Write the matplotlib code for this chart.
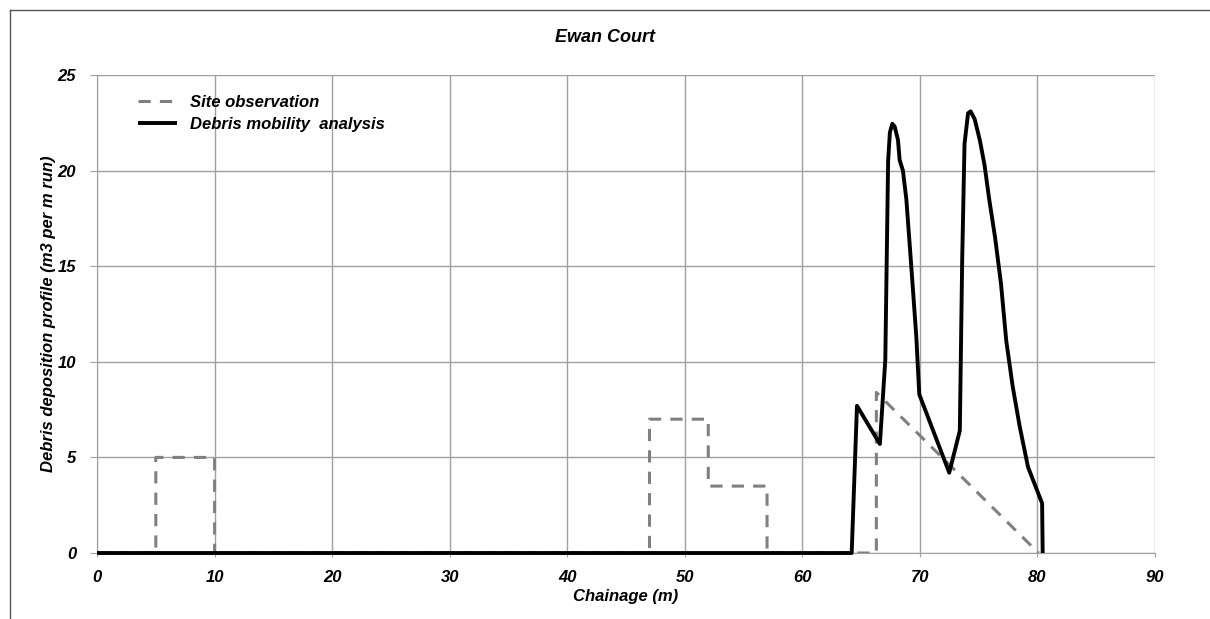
import matplotlib.pyplot as plt
from matplotlib.lines import Line2D

plt.rcParams['font.family'] = ['Liberation Sans', 'DejaVu Sans']

# Site observation (dashed grey)
obs_x = [0, 5, 5, 10, 10, 47, 47, 52, 52, 57, 57, 66.3, 66.3, 80.1]
obs_y = [0, 0, 5, 5, 0, 0, 7, 7, 3.5, 3.5, 0, 0, 8.4, 0]

# Debris mobility analysis (solid black)
dma_x = [0, 64.2, 64.65, 66.6, 67.06, 67.3, 67.45, 67.66, 67.86, 68.14, 68.28, 68.56,
         68.85, 69.27, 69.7, 69.95, 72.5, 73.4, 73.6, 73.8, 74.1, 74.32, 74.66, 75.1,
         75.5, 75.9, 76.4, 76.9, 77.35, 77.9, 78.5, 79.2, 80.4, 80.45]
dma_y = [0, 0, 7.7, 5.7, 10.1, 20.5, 22.0, 22.45, 22.3, 21.6, 20.55, 20.0,
         18.5, 15.0, 11.3, 8.3, 4.2, 6.4, 15.3, 21.4, 23.0, 23.1, 22.7, 21.6,
         20.3, 18.5, 16.5, 14.1, 11.1, 8.7, 6.6, 4.5, 2.6, 0]

fig = plt.figure(figsize=(12.1, 6.19), dpi=100)
ax = fig.add_axes([0.0802, 0.1066, 0.8743, 0.7722])

ax.plot(obs_x, obs_y, color='#808080', lw=2.2, dashes=(4, 3), zorder=3,
        label='Site observation')
ax.plot(dma_x, dma_y, color='black', lw=2.8, clip_on=False, solid_capstyle='butt',
        zorder=4, label='Debris mobility  analysis')

ax.set_xlim(0, 90)
ax.set_ylim(0, 25)
ax.set_xticks(range(0, 91, 10))
ax.set_yticks(range(0, 26, 5))
ax.grid(True, color='#a0a0a0', lw=1)
ax.set_axisbelow(True)
for s in ['top', 'right']:
    ax.spines[s].set_visible(False)
for s in ['left', 'bottom']:
    ax.spines[s].set_color('#a0a0a0')
ax.tick_params(axis='y', colors='#a0a0a0', labelcolor='black', length=5, pad=10, labelsize=12)
ax.tick_params(axis='x', colors='#a0a0a0', labelcolor='black', length=3, pad=9, labelsize=12)
for lab in ax.get_xticklabels() + ax.get_yticklabels():
    lab.set_fontweight('bold')
    lab.set_fontstyle('italic')

ax.set_xlabel('Chainage (m)', fontsize=12, fontweight='bold', fontstyle='italic', labelpad=3)
ax.set_ylabel('Debris deposition profile (m3 per m run)', fontsize=12,
              fontweight='bold', fontstyle='italic', labelpad=1)
fig.text(0.5, 0.94, 'Ewan Court', ha='center', va='center', fontsize=13,
         fontweight='bold', fontstyle='italic')

leg = ax.legend(loc='upper left', bbox_to_anchor=(0.025, 0.99), frameon=False,
                prop={'weight': 'bold', 'style': 'italic', 'size': 12},
                handlelength=2.3, labelspacing=0.45)

# outer chart frame
fig.add_artist(Line2D([10 / 1210, 10 / 1210], [0, 1 - 10 / 619], color='#555555', lw=1))
fig.add_artist(Line2D([10 / 1210, 1], [1 - 10 / 619, 1 - 10 / 619], color='#555555', lw=1))

fig.savefig('out.png', dpi=100)
